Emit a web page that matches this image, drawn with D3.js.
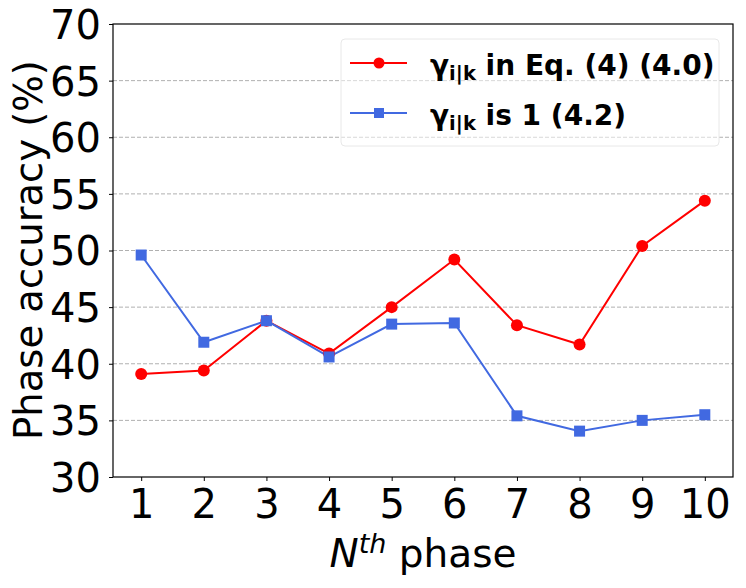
<!DOCTYPE html>
<html><head><meta charset="utf-8">
<script src="https://cdn.jsdelivr.net/npm/d3@7"></script>
<style>body{margin:0;background:#fff}svg{display:block}text{font-family:"DejaVu Sans",sans-serif}</style>
</head><body><svg id="c" width="746" height="588"></svg>
<script>
const phases = [1,2,3,4,5,6,7,8,9,10];
const redValues = [39.1,39.4,43.8,40.9,45.0,49.2,43.4,41.7,50.4,54.4];
const blueValues = [49.6,41.9,43.8,40.6,43.5,43.6,35.4,34.05,35.0,35.5];
const yTicks = [30,35,40,45,50,55,60,65,70];
const gridTicks = [35,40,45,50,55,60,65];

const svg = d3.select("#c");
const L=113, R=733, T=24, B=477;
const x = d3.scaleLinear().domain([0.55,10.45]).range([L,R]);
const y = d3.scaleLinear().domain([30,70]).range([B,T]);

// grid
svg.append("g").selectAll("line").data(gridTicks).join("line")
  .attr("x1",L).attr("x2",R).attr("y1",d=>y(d)).attr("y2",d=>y(d))
  .attr("stroke","#b0b0b0").attr("stroke-width",1).attr("stroke-dasharray","4,2");

// axes
const yAxis = d3.axisLeft(y).tickValues(yTicks).tickSize(4).tickPadding(8).tickFormat(d3.format("d"));
const xAxis = d3.axisBottom(x).tickValues(phases).tickSize(4).tickPadding(8).tickFormat(d3.format("d"));
const gy = svg.append("g").attr("transform",`translate(${L},0)`).call(yAxis);
const gx = svg.append("g").attr("transform",`translate(0,${B})`).call(xAxis);
[gx,gy].forEach(g=>{
  g.select(".domain").remove();
  g.selectAll("line").attr("stroke","#000").attr("stroke-width",1);
  g.selectAll("text").attr("font-size",40).attr("fill","#000").attr("font-family","DejaVu Sans");
});
gy.selectAll("text").attr("dy","0.36em");
gx.selectAll("text").attr("dy","0").attr("y",41);

svg.append("rect").attr("x",L).attr("y",T).attr("width",R-L).attr("height",B-T)
  .attr("fill","none").attr("stroke","#000").attr("stroke-width",1.2);

// lines
const line = d3.line().x((d,i)=>x(phases[i])).y(d=>y(d));
svg.append("path").datum(redValues).attr("d",line).attr("fill","none").attr("stroke","#ff0000").attr("stroke-width",2);
svg.append("path").datum(blueValues).attr("d",line).attr("fill","none").attr("stroke","#4169e1").attr("stroke-width",2);
svg.append("g").selectAll("circle").data(redValues).join("circle")
  .attr("cx",(d,i)=>x(phases[i])).attr("cy",d=>y(d)).attr("r",6).attr("fill","#ff0000");
svg.append("g").selectAll("rect").data(blueValues).join("rect")
  .attr("x",(d,i)=>x(phases[i])-5.5).attr("y",d=>y(d)-5.5).attr("width",11).attr("height",11).attr("fill","#4169e1");

// labels
svg.append("text").attr("transform","translate(42,250) rotate(-90)").attr("text-anchor","middle")
  .attr("font-size",38.5).attr("fill","#000").text("Phase accuracy (%)");
const xl = svg.append("text").attr("x",423).attr("y",567).attr("text-anchor","middle").attr("font-size",39).attr("fill","#000");
xl.append("tspan").attr("font-style","italic").text("N");
xl.append("tspan").attr("font-style","italic").attr("font-size",27).attr("dy",-14).text("th");
xl.append("tspan").attr("dy",14).text(" phase");

// legend
svg.append("rect").attr("x",341).attr("y",39).attr("width",378).attr("height",107).attr("rx",4)
  .attr("fill","#fff").attr("fill-opacity",0.5).attr("stroke","#e8e8e8").attr("stroke-width",1);
const legendItems = [
  {label:" in Eq. (4) (4.0)", color:"#ff0000", shape:"circle", yy:63},
  {label:" is 1 (4.2)", color:"#4169e1", shape:"square", yy:113}
];
legendItems.forEach(it=>{
  svg.append("line").attr("x1",350).attr("x2",407).attr("y1",it.yy).attr("y2",it.yy).attr("stroke",it.color).attr("stroke-width",2);
  if(it.shape==="circle") svg.append("circle").attr("cx",379).attr("cy",it.yy).attr("r",5.5).attr("fill",it.color);
  else svg.append("rect").attr("x",374).attr("y",it.yy-5).attr("width",10).attr("height",10).attr("fill",it.color);
  const t = svg.append("text").attr("x",430).attr("y",it.yy+12).attr("font-size",28).attr("font-weight","bold").attr("fill","#000");
  t.append("tspan").text("γ");
  t.append("tspan").attr("font-size",19.5).attr("dy",5).text("i|k");
  t.append("tspan").attr("dy",-5).text(it.label);
});
</script></body></html>
